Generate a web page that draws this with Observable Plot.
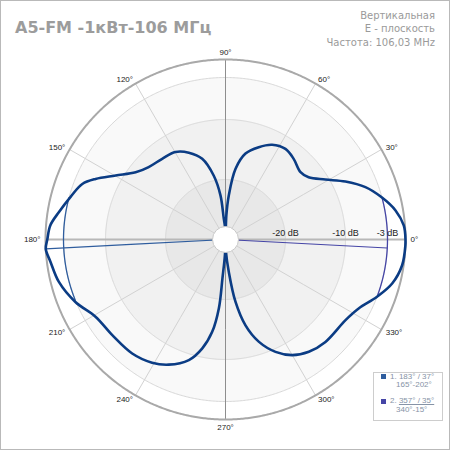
<!DOCTYPE html>
<html>
<head>
<meta charset="utf-8">
<script src="https://cdn.jsdelivr.net/npm/d3@7"></script>
<script src="https://cdn.jsdelivr.net/npm/@observablehq/plot@0.6"></script>
<style>
  body { margin: 0; background: #fff; }
  #wrap { position: relative; width: 450px; height: 450px; overflow: hidden; background: #fff; }
  #wrap svg { position: absolute; left: 0; top: 0; }
  #frame { position: absolute; left: 0; top: 0; width: 450px; height: 450px; box-sizing: border-box; border: 1px solid #b9b9b9; pointer-events: none; }
  #title { position: absolute; left: 15px; top: 20px; font: bold 16px/16px "DejaVu Sans", sans-serif; color: #9c9c9c; white-space: nowrap; }
  #sub { position: absolute; right: 15px; top: 9px; font: 10px/13.3px "DejaVu Sans", sans-serif; color: #9a9a9a; text-align: right; white-space: nowrap; }
  #legend { position: absolute; left: 373px; top: 372px; width: 70px; height: 49px; box-sizing: border-box; border: 1px solid #cdcdcd; background: #fff; }
  .lg { position: absolute; font: 8px/8px "Liberation Sans", sans-serif; color: #8693a6; white-space: nowrap; }
  .sq { position: absolute; width: 5px; height: 5px; }
</style>
</head>
<body>
<div id="wrap">
  <div id="title">A5-FM -1кВт-106 МГц</div>
  <div id="sub">Вертикальная<br>E - плоскость<br>Частота: 106,03 MHz</div>
  <div id="legend"></div>
  <div id="frame"></div>
</div>
<script>
// ---- data ----
const angles = [0, 4.5, 9.7, 15, 20.5, 25.8, 31, 36.8, 41.9, 49.8, 56.5, 63.8, 70.2, 76.9, 81.9, 85.7, 88, 90,
  92, 94.7, 96.5, 100.4, 106.1, 112.9, 119.8, 128.1, 136.7, 143.2, 149.8, 155, 158.8, 164.7, 170.7, 175.4, 180,
  183, 187.3, 194.2, 202.6, 210.7, 220.2, 230.7, 239.2, 245.6, 253.1, 257.9, 261.8, 264.5, 265.5, 268, 270,
  272, 275.8, 279.1, 283.1, 288, 294, 300, 306.6, 314.3, 326.1, 332.6, 339.3, 345.2, 351.7, 358.2, 360];
const gains = [0, -0.2, -1.25, -3, -5.1, -7.8, -10.6, -12.7, -13.2, -12.4, -11.9, -12.4, -13.65, -15.3, -18.1, -22.6, -26, -30,
  -28, -26.5, -22.6, -19.2, -16, -14.3, -13.2, -12.9, -12.4, -11.3, -8.8, -6.1, -4.4, -3.2, -1.85, -0.7, -0.3,
  0, -0.6, -1.33, -2.9, -4.8, -5.3, -5.45, -6.1, -7.1, -9, -11.4, -14.45, -18.5, -23.5, -27.5, -30,
  -28, -24.6, -19.5, -15.3, -12.1, -9.5, -7.75, -6.7, -6.15, -5.9, -5, -3, -1.27, -0.25, 0, 0];

const ringLevels = [0, -3, -10, -20];
const dbTicks = [-20, -10, -3];
const dbTickLabels = ["-20 dB", "-10 dB", "-3 dB"];
const spokeAngles = [0, 30, 60, 90, 120, 150, 180, 210, 240, 270, 300, 330];
const angleLabels = spokeAngles.map(a => a + "°");

const beamNames = ["1", "2"];
const beamPeak = [183, 357];
const beamWidth = [37, 35];
const beamFrom = [165, 340];
const beamTo = [202, 15];
const beamLineGain = [0, -3];
const beamColors = ["#2f5d9e", "#4545a6"];

// ---- helpers (polar -> azimuthal projection coordinates) ----
const SPAN = 30;                       // dB shown from centre to rim
const lon = a => a + 90;               // angle -> longitude
const lat = g => 60 - Math.max(g, -SPAN); // gain (dB) -> latitude
const ring = g => d3.geoCircle().center([0, 90]).radius(g + SPAN).precision(0.5)();

const pattern = angles.map((a, i) => ({a, g: gains[i]}));
const beams = beamNames.map((n, i) => ({i, n, peak: beamPeak[i], from: beamFrom[i], to: beamTo[i] < beamFrom[i] ? beamTo[i] + 360 : beamTo[i], lg: beamLineGain[i]}));
const arcGeom = b => ({type: "LineString", coordinates: d3.range(b.from, b.to + 0.01, 0.5).map(a => [lon(a), lat(-3)])});
const labels = spokeAngles.map((a, i) => ({a, t: angleLabels[i]}));
const rightSide = labels.filter(d => d.a < 90 || d.a > 270);
const leftSide = labels.filter(d => d.a > 90 && d.a < 270);
const labR = 0.83; // label radius in dB beyond rim

const chart = Plot.plot({
  width: 450,
  height: 450,
  marginLeft: 45, marginRight: 45, marginTop: 59, marginBottom: 31,
  projection: {type: "azimuthal-equidistant", rotate: [0, -90], domain: ring(0), inset: 0, clip: false},
  color: {type: "ordinal", domain: ringLevels, range: ["#ffffff", "#f9f9f9", "#f1f1f1", "#e8e8e8"]},
  style: {fontFamily: "Liberation Sans, sans-serif", background: "transparent", overflow: "visible"},
  marks: [
    Plot.geo(ringLevels, {geometry: g => ring(g), fill: g => g, stroke: "#d8d8d8", strokeWidth: 1}),
    Plot.link(spokeAngles.filter(a => a % 90 !== 0), {x1: a => lon(a), y1: 90, x2: a => lon(a), y2: lat(0), stroke: "#d2d2d2", strokeWidth: 1}),
    Plot.link([0, 180], {x1: a => lon(a), y1: 90, x2: a => lon(a), y2: lat(0), stroke: "#b8b8b8", strokeWidth: 2}),
    Plot.link([90, 270], {x1: a => lon(a), y1: 90, x2: a => lon(a), y2: lat(0), stroke: "#8e8e8e", strokeWidth: 1}),
    Plot.geo([0], {geometry: g => ring(g), fill: "none", stroke: "#a9a9a9", strokeWidth: 2}),
    Plot.geo(beams, {geometry: arcGeom, stroke: b => beamColors[b.i], strokeWidth: 1.3, fill: "none"}),
    Plot.link(beams, {x1: b => lon(b.peak), y1: 90, x2: b => lon(b.peak), y2: b => lat(b.lg), stroke: b => beamColors[b.i], strokeWidth: 1.2}),
    Plot.line(pattern, {x: d => lon(d.a), y: d => lat(d.g), stroke: "#0b3c84", strokeWidth: 2.6, curve: "catmull-rom"}),
    Plot.dot([0], {x: 0, y: 90, r: 13, fill: "white", stroke: "#c8c8c8", strokeWidth: 1}),
    Plot.text(dbTicks, {x: lon(0), y: g => lat(g), text: (g, i) => dbTickLabels[i], dy: -6, fontSize: 9, fill: "#222"}),
    Plot.text(rightSide, {x: d => lon(d.a), y: lat(labR), text: "t", textAnchor: "start", fontSize: 8, fill: "#222"}),
    Plot.text(leftSide, {x: d => lon(d.a), y: lat(labR), text: "t", textAnchor: "end", fontSize: 8, fill: "#222"}),
    Plot.text(labels.filter(d => d.a === 90), {x: d => lon(d.a), y: lat(labR), text: "t", lineAnchor: "bottom", fontSize: 8, fill: "#222"}),
    Plot.text(labels.filter(d => d.a === 270), {x: d => lon(d.a), y: lat(labR), text: "t", lineAnchor: "top", fontSize: 8, fill: "#222"})
  ]
});
document.getElementById("wrap").insertBefore(chart, document.getElementById("title"));

// ---- legend ----
const lg = document.getElementById("legend");
beams.forEach((b, i) => {
  const top = i * 24.5; // rows inside box
  const sq = document.createElement("div");
  sq.className = "sq";
  sq.style.left = "7px"; sq.style.top = (1 + top) + "px";
  sq.style.background = beamColors[i];
  lg.appendChild(sq);
  const l1 = document.createElement("div");
  l1.className = "lg";
  l1.style.left = "16px"; l1.style.top = (-0.5 + top) + "px";
  const main = `${beamPeak[i]}° / ${beamWidth[i]}°`;
  l1.innerHTML = `${beamNames[i]}. ` + (i === 1 ? `<span style="text-decoration:underline">${main}</span>` : main);
  lg.appendChild(l1);
  const l2 = document.createElement("div");
  l2.className = "lg";
  l2.style.left = "22px"; l2.style.top = (8 + top) + "px";
  l2.textContent = `${beamFrom[i]}°-${beamTo[i]}°`;
  lg.appendChild(l2);
});
</script>
</body>
</html>
